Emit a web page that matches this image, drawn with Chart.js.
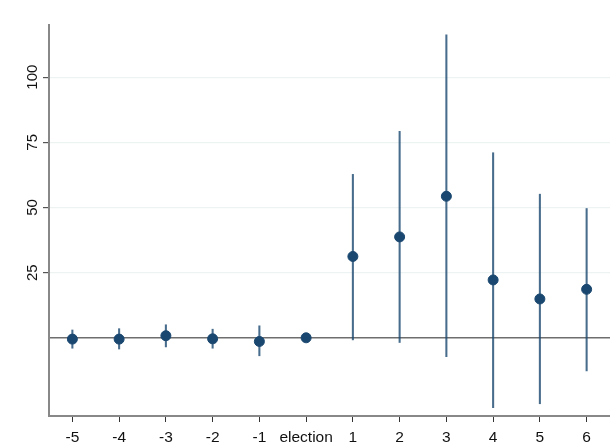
<!DOCTYPE html>
<html>
<head>
<meta charset="utf-8">
<script src="https://cdn.jsdelivr.net/npm/chart.js@4"></script>
<style>
  html, body { margin: 0; padding: 0; background: #fff; }
  #wrap { width: 610px; height: 446px; }
</style>
</head>
<body>
<div id="wrap"><canvas id="myChart" width="610" height="446"></canvas></div>
<script>
const labels = ["-5", "-4", "-3", "-2", "-1", "election", "1", "2", "3", "4", "5", "6"];
const estimates = [-0.5, -0.5, 0.8, -0.4, -1.4, 0, 31.2, 38.7, 54.3, 22.2, 14.9, 18.6];
const ciLow = [-4, -4.3, -3.5, -4, -6.9, null, -0.8, -1.8, -7.2, -26.8, -25.3, -12.7];
const ciHigh = [3, 3.5, 5, 3.3, 4.6, null, 62.7, 79.2, 116.2, 71, 55.1, 49.6];
const yTicks = [0, 25, 50, 75, 100];

const navy = "#1a476f";
const tickFont = "15px 'Liberation Sans'";

// y labels in Stata style: rotated, centred on the tick
const rotatedYLabels = {
    id: "rotatedYLabels",
    afterDraw(chart) {
        const y = chart.scales.y;
        const c = chart.ctx;
        c.save();
        c.font = tickFont;
        c.fillStyle = "#111";
        c.textAlign = "center";
        c.textBaseline = "middle";
        yTicks.forEach(v => {
            if (v === 0) return;
            c.save();
            c.translate(y.right - 16, y.getPixelForValue(v));
            c.rotate(-Math.PI / 2);
            c.fillText(String(v), 0, 0);
            c.restore();
        });
        c.restore();
    }
};

const ctx = document.getElementById("myChart").getContext("2d");

const myChart = new Chart(ctx, {
    data: {
        labels: labels,
        datasets: [
            {
                type: "line",
                label: "estimate",
                data: estimates,
                showLine: false,
                pointRadius: 5,
                pointBackgroundColor: navy,
                pointBorderColor: navy,
                order: 0
            },
            {
                type: "bar",
                label: "ci",
                data: ciLow.map((lo, i) => lo === null ? null : [lo, ciHigh[i]]),
                backgroundColor: "rgba(26, 71, 111, 0.8)",
                barThickness: 1.4,
                grouped: false,
                order: 1
            }
        ]
    },
    options: {
        responsive: false,
        animation: false,
        layout: { autoPadding: false, padding: { top: 25, right: 0, left: 0, bottom: 0 } },
        plugins: {
            legend: { display: false },
            tooltip: { enabled: false }
        },
        scales: {
            x: {
                type: "category",
                offset: true,
                afterFit: axis => {
                    axis.height = 30;
                    axis.paddingLeft = 0;
                    axis.paddingRight = 0;
                },
                grid: {
                    display: true,
                    drawOnChartArea: false,
                    drawTicks: true,
                    tickLength: 6,
                    tickColor: "#333",
                    offset: false
                },
                border: { color: "#888", width: 2 },
                ticks: {
                    color: "#111",
                    font: { family: "Liberation Sans", size: 15.5 },
                    maxRotation: 0,
                    autoSkip: false,
                    padding: 6
                }
            },
            y: {
                min: -30,
                max: 120,
                afterBuildTicks: axis => {
                    axis.ticks = yTicks.map(v => ({ value: v }));
                },
                afterFit: axis => { axis.width = 49; },
                grid: {
                    color: c => c.tick && c.tick.value === 0 ? "#6e6e6e" : "#edf2f3",
                    lineWidth: c => c.tick && c.tick.value === 0 ? 1.5 : 1.2,
                    tickLength: 6,
                    tickColor: c => c.tick && c.tick.value === 0 ? "rgba(0,0,0,0)" : "#555"
                },
                border: { color: "#888", width: 2 },
                ticks: { display: false }
            }
        }
    },
    plugins: [rotatedYLabels]
});
</script>
</body>
</html>
